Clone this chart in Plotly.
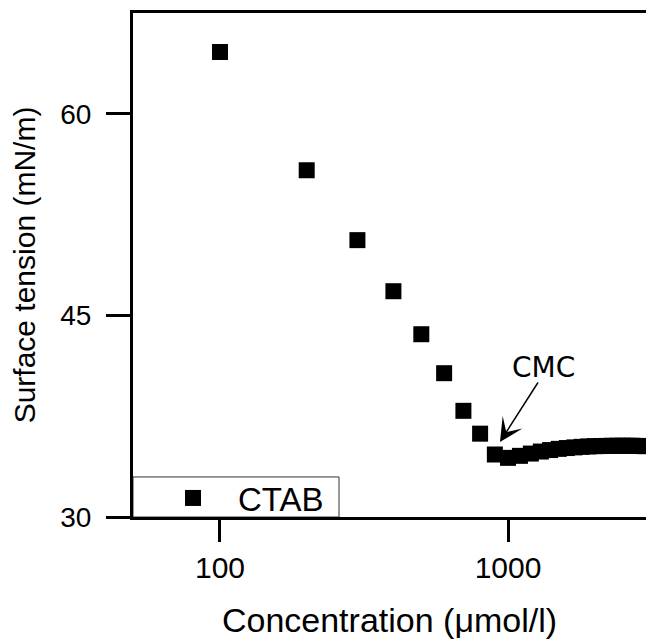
import plotly.graph_objects as go

# CTAB surface tension vs concentration
conc = [100, 200, 300, 400, 500, 600, 700, 800, 900, 1000,
        1100, 1200, 1300, 1400, 1500, 1600, 1700, 1800, 1900, 2000,
        2100, 2200, 2300, 2400, 2500, 2600, 2700, 2800, 2900, 3000]
tension = [64.6, 55.8, 50.6, 46.8, 43.6, 40.7, 37.9, 36.2, 34.65, 34.4,
           34.55, 34.72, 34.87, 34.98, 35.07, 35.13, 35.18, 35.22, 35.25, 35.27,
           35.28, 35.29, 35.3, 35.3, 35.3, 35.3, 35.3, 35.29, 35.28, 35.27]

x_ticks = [100, 1000]
y_ticks = [30, 45, 60]

axis_font = "Liberation Sans, Arial, sans-serif"

fig = go.Figure()
fig.add_trace(go.Scatter(
    x=conc, y=tension, mode="markers", name="CTAB",
    marker=dict(symbol="square", size=16, color="black"),
))

# arrow pointing at the CMC
fig.add_annotation(
    x=2.972, y=35.58, xref="x", yref="y",
    ax=39, ay=-61, axref="pixel", ayref="pixel",
    text="", showarrow=True, arrowhead=3, arrowsize=2.6, arrowwidth=1.5,
    arrowcolor="black", standoff=0,
)
fig.add_annotation(
    x=3.122, y=41.1, xref="x", yref="y",
    text="CMC", showarrow=False,
    font=dict(family="DejaVu Sans", size=28, color="black"),
)

# legend frame
fig.add_shape(
    type="rect", xref="paper", yref="y",
    x0=0, x1=0.4016, y0=30, y1=32.98,
    line=dict(color="#333333", width=1), fillcolor="white", layer="below",
)

fig.update_xaxes(
    type="log", range=[1.698, 3.479],
    tickvals=x_ticks, ticktext=[str(v) for v in x_ticks],
    ticks="outside", ticklen=22, tickwidth=3, tickcolor="black",
    showline=True, linewidth=3, linecolor="black", mirror=True,
    showgrid=False, zeroline=False,
    tickfont=dict(family=axis_font, size=30, color="black"),
    title=dict(text="Concentration (\u03bcmol/l)", standoff=27,
               font=dict(family=axis_font, size=34, color="black")),
)
fig.update_yaxes(
    range=[30, 67.5],
    tickvals=y_ticks,
    ticks="outside", ticklen=24, tickwidth=3, tickcolor="black",
    ticklabelstandoff=9,
    showline=True, linewidth=3, linecolor="black", mirror=False,
    showgrid=False, zeroline=False,
    tickfont=dict(family=axis_font, size=28, color="black"),
    title=dict(text="Surface tension (mN/m)", standoff=16,
               font=dict(family=axis_font, size=30, color="black")),
)

fig.update_layout(
    width=646, height=639,
    margin=dict(l=133, r=0, t=13, b=122),
    plot_bgcolor="white", paper_bgcolor="white",
    showlegend=True,
    legend=dict(
        x=0, y=0.0377, xanchor="left", yanchor="middle",
        bgcolor="rgba(0,0,0,0)", borderwidth=0,
        font=dict(family=axis_font, size=33, color="black"),
        itemwidth=80, indentation=15,
    ),
)

fig.write_html("out.html", config={"displayModeBar": False},
               post_script="document.body.style.margin='0';document.body.style.overflow='hidden';")
